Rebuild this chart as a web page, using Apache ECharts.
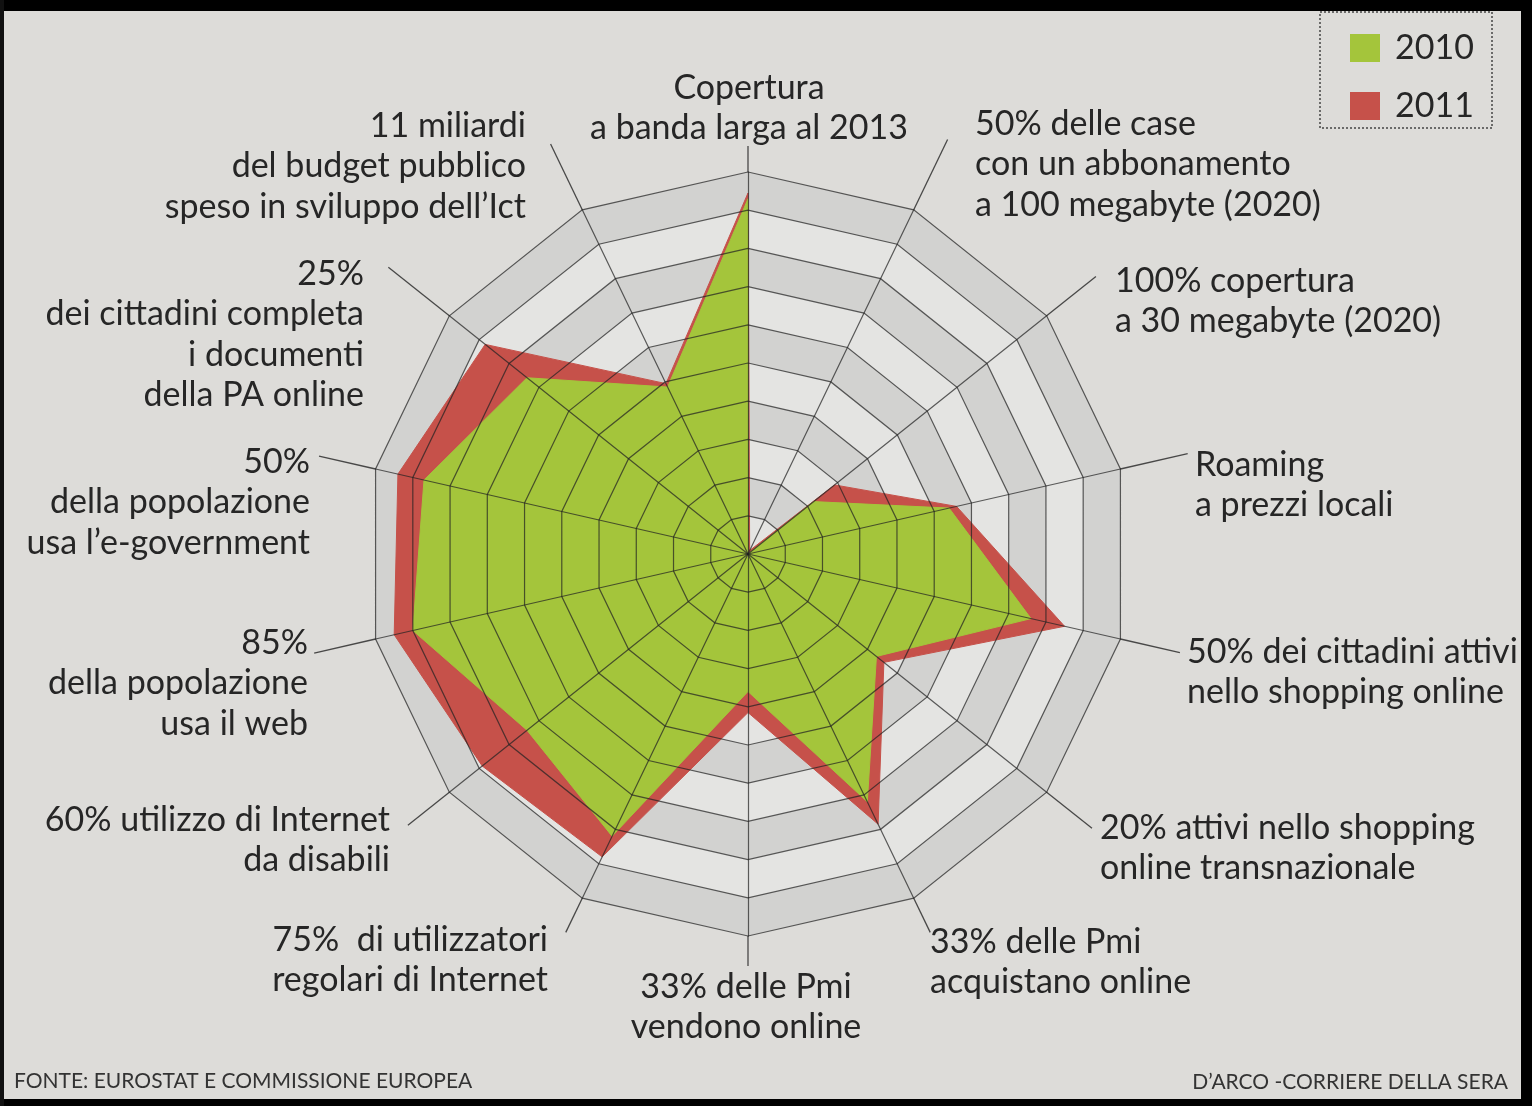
<!DOCTYPE html>
<html>
<head>
<meta charset="utf-8">
<script src="https://cdn.jsdelivr.net/npm/echarts@6/dist/echarts.min.js"></script>
<style>
html,body{margin:0;padding:0;background:#dddcd9;}
#chart{width:1532px;height:1106px;}
</style>
</head>
<body>
<div id="chart"></div>
<script>
// Axes listed clockwise starting from the top
const categories = [
  'Copertura\na banda larga al 2013',
  '50% delle case\ncon un abbonamento\na 100 megabyte (2020)',
  '100% copertura\na 30 megabyte (2020)',
  'Roaming\na prezzi locali',
  '50% dei cittadini attivi\nnello shopping online',
  '20% attivi nello shopping\nonline transnazionale',
  '33% delle Pmi\nacquistano online',
  '33% delle Pmi\nvendono online',
  '75%  di utilizzatori\nregolari di Internet',
  '60% utilizzo di Internet\nda disabili',
  '85%\ndella popolazione\nusa il web',
  '50%\ndella popolazione\nusa l\u2019e-government',
  '25%\ndei cittadini completa\ni documenti\ndella PA online',
  '11 miliardi\ndel budget pubblico\nspeso in sviluppo dell\u2019Ict'
];
const seriesNames = ['2010', '2011'];
const values2010 = [9.3, 0.0, 2.2, 5.4, 7.6, 4.3, 7.2, 3.6, 8.2, 7.4, 9.0, 8.7, 7.4, 4.85];
const values2011 = [9.45, 0.1, 2.9, 5.6, 8.5, 4.55, 7.85, 4.15, 8.8, 8.9, 9.5, 9.4, 8.8, 4.95];
const axisMax = 10;
const ringCount = 10;
const sourceText = 'FONTE: EUROSTAT E COMMISSIONE EUROPEA';
const creditText = 'D\u2019ARCO -CORRIERE DELLA SERA';

// ---- layout / style ----
const CX = 748, CY = 554, R = 382;
const GREEN = '#a4c53b', RED = '#c6514a';
const FONT = "'Lato', sans-serif";
const TEXT_COLOR = '#262626';
const labelLayout = [
  [749, 88, 'center'], [975, 124, 'left'], [1115, 281, 'left'], [1195, 465, 'left'],
  [1187, 652, 'left'], [1100, 828, 'left'], [930, 942, 'left'], [746, 987, 'center'],
  [548, 940, 'right'], [390, 820, 'right'], [308, 643, 'right'], [310, 462, 'right'],
  [364, 274, 'right'], [526, 126, 'right']
];
const leaderLen = [408, 460, 445, 451, 443, 440, 420, 412, 420, 435, 445, 440, 460, 455];
const LINE_H = 40.5;

// ECharts places indicators counter-clockwise; reorder so they run clockwise
const n = categories.length;
const order = [0];
for (let i = n - 1; i >= 1; i--) order.push(i);
const reorder = arr => order.map(i => arr[i]);
const indicator = reorder(categories).map(name => ({ name: name, max: axisMax, min: 0 }));

const gridLine = { color: 'rgba(35,35,35,0.72)', width: 1.2 };
const baseRadar = {
  center: [CX, CY], radius: R, shape: 'polygon', splitNumber: ringCount,
  startAngle: 90, indicator: indicator, axisName: { show: false }, axisTick: { show: false }
};

const graphics = [];
// leader lines (extensions of the spokes towards the labels)
for (let k = 0; k < n; k++) {
  const a = k * 2 * Math.PI / n;
  graphics.push({
    type: 'line', z: 10,
    shape: { x1: CX + R * Math.sin(a), y1: CY - R * Math.cos(a), x2: CX + leaderLen[k] * Math.sin(a), y2: CY - leaderLen[k] * Math.cos(a) },
    style: { stroke: 'rgba(35,35,35,0.8)', lineWidth: 1.3 }
  });
}
// axis labels
categories.forEach((txt, k) => {
  const [x, y, align] = labelLayout[k];
  graphics.push({
    type: 'text', z: 11, x: x, y: y - LINE_H / 2,
    style: { text: txt, fill: TEXT_COLOR, font: '34px ' + FONT, textAlign: align, textVerticalAlign: 'top', lineHeight: LINE_H }
  });
});
// footer
graphics.push({ type: 'text', z: 11, x: 14, y: 1081, style: { text: sourceText, fill: '#333', font: '21px ' + FONT, textAlign: 'left', textVerticalAlign: 'middle' } });
graphics.push({ type: 'text', z: 11, x: 1508, y: 1082, style: { text: creditText, fill: '#333', font: '21px ' + FONT, textAlign: 'right', textVerticalAlign: 'middle' } });
// legend box
graphics.push({ type: 'rect', z: 11, shape: { x: 1320, y: 12, width: 172, height: 116 }, style: { fill: 'none', stroke: '#444', lineWidth: 1.5, lineDash: [2, 2] } });
// scan frame
graphics.push({ type: 'rect', z: 20, shape: { x: 0, y: 0, width: 1532, height: 11 }, style: { fill: '#000' } });
graphics.push({ type: 'rect', z: 20, shape: { x: 1521, y: 0, width: 11, height: 1106 }, style: { fill: '#000' } });
graphics.push({ type: 'rect', z: 20, shape: { x: 0, y: 1099, width: 1532, height: 7 }, style: { fill: '#000' } });
graphics.push({ type: 'rect', z: 20, shape: { x: 0, y: 0, width: 4, height: 1106 }, style: { fill: '#111' } });

const chart = echarts.init(document.getElementById('chart'));
chart.setOption({
  backgroundColor: '#dddcd9',
  animation: false,
  legend: {
    data: seriesNames, orient: 'vertical', left: 1345, top: 26,
    itemWidth: 30, itemHeight: 28, itemGap: 24, icon: 'rect',
    textStyle: { fontSize: 34, color: TEXT_COLOR, fontFamily: FONT, padding: [0, 0, 0, 10] }, selectedMode: false
  },
  radar: [
    Object.assign({}, baseRadar, {
      z: 0,
      splitArea: { show: true, areaStyle: { color: ['#e4e4e2', '#d2d2d0'] } },
      splitLine: { show: false }, axisLine: { show: false }
    }),
    Object.assign({}, baseRadar, {
      z: 5,
      splitArea: { show: false },
      splitLine: { show: true, lineStyle: gridLine },
      axisLine: { show: true, lineStyle: gridLine }
    })
  ],
  series: [{
    type: 'radar', radarIndex: 0, z: 2, symbol: 'none', silent: true,
    data: [
      { name: seriesNames[1], value: reorder(values2011), itemStyle: { color: RED }, lineStyle: { color: RED, width: 1 }, areaStyle: { color: RED, opacity: 1 } },
      { name: seriesNames[0], value: reorder(values2010), itemStyle: { color: GREEN }, lineStyle: { color: GREEN, width: 1 }, areaStyle: { color: GREEN, opacity: 1 } }
    ]
  }],
  graphic: graphics
});
</script>
</body>
</html>
